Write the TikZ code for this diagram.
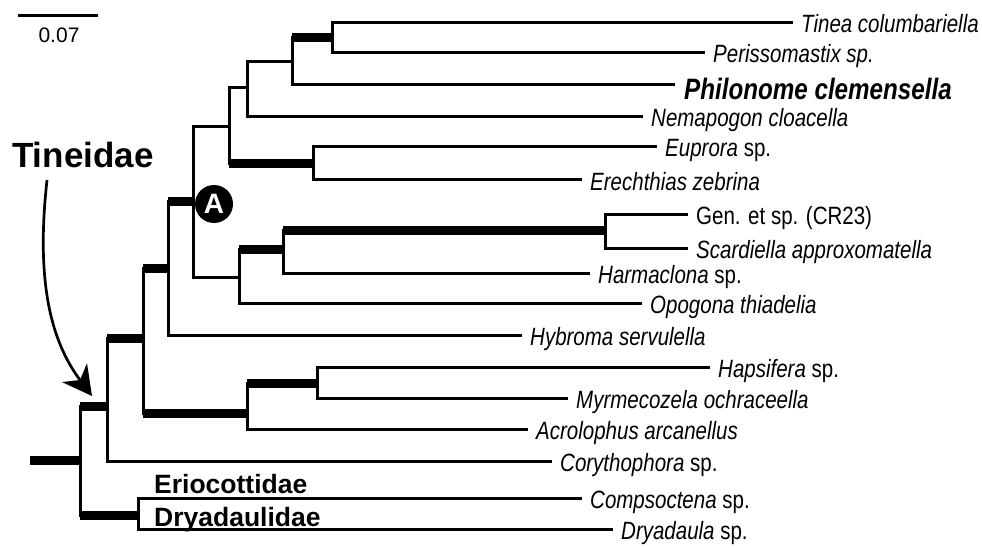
\documentclass[tikz,border=0pt]{standalone}
\usepackage{fontspec}
\setmainfont{Liberation Sans}
\newfontfamily\narrowsf[FakeStretch=0.82]{Liberation Sans}
\usepackage{tikz}
\usetikzlibrary{arrows.meta}
\tikzset{
 br/.style={line width=3pt},
 thk/.style={line width=9pt},
 lab/.style={anchor=base west,inner sep=0pt,xshift=8pt,yshift=-10pt,
  font=\narrowsf\fontsize{25}{25}\selectfont},
 labbig/.style={anchor=base west,inner sep=0pt,xshift=9pt,yshift=-15pt,
  font=\narrowsf\bfseries\itshape\fontsize{29.5}{30}\selectfont},
 fam/.style={anchor=base west,inner sep=0pt,font=\bfseries\fontsize{26.5}{27}\selectfont}
}

\begin{document}
\begin{tikzpicture}[x=1pt,y=-1pt,>=Stealth]
\useasboundingbox (0,0) rectangle (982,548);
% internal nodes
\coordinate (r0) at (30,460);  \coordinate (n0) at (80,460);
\coordinate (n1) at (107,406); \coordinate (n2) at (138,515);
\coordinate (n3) at (143,338); \coordinate (n4) at (168,268);
\coordinate (n5) at (247,413); \coordinate (n6) at (317,383);
\coordinate (nA) at (193,202); \coordinate (n7) at (229,127);
\coordinate (n8) at (239,277); \coordinate (n9) at (247,88);
\coordinate (n10) at (313,164); \coordinate (n11) at (292,62);
\coordinate (n12) at (332,38); \coordinate (n13) at (283,249);
\coordinate (n14) at (605,230);
% tips
\coordinate (tinea) at (793,23);  \coordinate (periss) at (705,53);
\coordinate (philo) at (675,85);  \coordinate (nemap) at (643,117);
\coordinate (eupro) at (657,147); \coordinate (erech) at (582,180);
\coordinate (gen) at (688,214);   \coordinate (scard) at (688,248);
\coordinate (harma) at (590,273); \coordinate (opogo) at (642,303);
\coordinate (hybro) at (522,335); \coordinate (hapsi) at (710,367);
\coordinate (myrme) at (568,398); \coordinate (acrol) at (528,429);
\coordinate (coryt) at (552,461); \coordinate (comps) at (582,498);
\coordinate (dryad) at (613,529);
% branches
\foreach \p/\c in {n0/n1,n0/n2,n2/comps,n2/dryad,n1/n3,n1/coryt,n3/n4,n3/n5,
  n5/n6,n5/acrol,n6/hapsi,n6/myrme,n4/nA,n4/hybro,nA/n7,nA/n8,n7/n9,n7/n10,
  n9/n11,n9/nemap,n11/n12,n11/philo,n12/tinea,n12/periss,n10/eupro,n10/erech,
  n8/n13,n8/opogo,n13/n14,n13/harma,n14/gen,n14/scard}
  \draw[br] (\p) |- (\c);
\draw[thk] (r0) -- (n0);
\foreach \p/\c in {n0/n1,n0/n2,n1/n3,n3/n4,n3/n5,n5/n6,n4/nA,n7/n10,n11/n12,
  n8/n13,n13/n14}
  \draw[thk] (\p |- \c) -- (\c);
% labels
\node[lab] (Ltinea) at (tinea) {\textit{Tinea columbariella}};
\node[lab] (Lperiss) at (periss) {\textit{Perissomastix sp.}};
\node[labbig] (Lphilo) at (philo) {Philonome clemensella};
\node[lab] (Lnemap) at (nemap) {\textit{Nemapogon cloacella}};
\node[lab] (Leupro) at (eupro) {\textit{Euprora} sp.};
\node[lab] (Lerech) at (erech) {\textit{Erechthias zebrina}};
\node[lab] (Lgen) at (gen) {Gen. et sp. (CR23)};
\node[lab] (Lscard) at (scard) {\textit{Scardiella approxomatella}};
\node[lab] (Lharma) at (harma) {\textit{Harmaclona} sp.};
\node[lab] (Lopogo) at (opogo) {\textit{Opogona thiadelia}};
\node[lab] (Lhybro) at (hybro) {\textit{Hybroma servulella}};
\node[lab] (Lhapsi) at (hapsi) {\textit{Hapsifera} sp.};
\node[lab] (Lmyrme) at (myrme) {\textit{Myrmecozela ochraceella}};
\node[lab] (Lacrol) at (acrol) {\textit{Acrolophus arcanellus}};
\node[lab] (Lcoryt) at (coryt) {\textit{Corythophora} sp.};
\node[lab] (Lcomps) at (comps) {\textit{Compsoctena} sp.};
\node[lab] (Ldryad) at (dryad) {\textit{Dryadaula} sp.};
% node A, families, scale
\node[circle,fill=black,minimum size=38pt,inner sep=0pt,text=white,
  font=\bfseries\fontsize{28}{28}\selectfont] (nodeA) at (214,204) {A};
\node[anchor=base west,inner sep=0pt,font=\bfseries\fontsize{35}{35}\selectfont]
  (tineidae) at (12,168) {Tineidae};
\node[fam] (erioc) at (154,493) {Eriocottidae};
\node[fam] (dryadfam) at (154,526) {Dryadaulidae};
\coordinate (arrS) at (47,180); \coordinate (arrE) at (92,396);
\draw[line width=2.7pt,-{Stealth[length=29pt,width=31pt,inset=9pt]}]
  (arrS) .. controls (36,280) and (50,340) .. (arrE);
\coordinate (sbL) at (18,16); \coordinate (sbR) at (98,16);
\draw[line width=3pt] (sbL) -- (sbR);
\node[anchor=base,inner sep=0pt,font=\fontsize{21}{21}\selectfont] (sblab) at (59,43) {0.07};
\end{tikzpicture}
\end{document}
